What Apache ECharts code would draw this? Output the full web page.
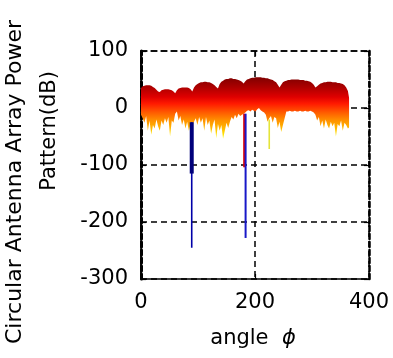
<!DOCTYPE html>
<html><head><meta charset="utf-8">
<script src="https://cdn.jsdelivr.net/npm/echarts@6/dist/echarts.min.js"></script>
<style>html,body{margin:0;padding:0;background:#fff}#c{width:393px;height:358px}</style>
</head><body><div id="c"></div>
<script>
// ---- data ----
const angleDeg = [0,3,6,9,12,15,18,21,24,27,30,33,36,39,42,45,48,51,54,57,60,63,66,69,72,75,78,81,84,87,90,93,96,99,102,105,108,111,114,117,120,123,126,129,132,135,138,141,144,147,150,153,156,159,162,165,168,171,174,177,180,183,186,189,192,195,198,201,204,207,210,213,216,219,222,225,228,231,234,237,240,243,246,249,252,255,258,261,264,267,270,273,276,279,282,285,288,291,294,297,300,303,306,309,312,315,318,321,324,327,330,333,336,339,342,345,348,351,354,357,360,363,365];
// upper envelope of the family of patterns (dB)
const upperDb = [35,38,39,40,40,40,39,37,35,32,29,28,
 31,32,33,33,33,32,31,29,26,
 31,34,35,36,36,36,36,35,33,29,
 36,40,42,44,45,45,46,46,45,45,44,42,40,37,34,
 42,46,48,50,51,51,52,52,51,51,50,49,48,46,43,
 47,50,51,52,53,53,54,54,54,54,53,53,52,52,51,50,49,47,45,41,36,
 41,45,47,48,49,49,50,50,50,50,50,49,49,49,48,48,47,46,44,41,36,
 38,41,43,44,45,45,46,46,46,45,45,45,44,44,43,42,40,36,30,18];
// lower (jagged) envelope of the family of patterns (dB)
const lowerDb = [-12,-18,-26,-14,-40,-22,-47,-30,-36,-20,-32,-40,
 -22,-30,-18,-26,-16,-50,-22,-26,-10,
 -6,-22,-14,-30,-20,-36,-24,-40,-28,-30,
 -24,-18,-30,-16,-26,-18,-40,-16,-30,-22,-45,-30,-20,-53,-28,
 -40,-30,-54,-40,-26,-35,-24,-16,-20,-12,-18,-10,-14,-12,-10,
 -8,-5,-4,-6,-3,-5,-6,-2,0,-4,-6,-8,-12,-24,-18,-14,-26,-16,-18,-35,-24,
 -42,-30,-18,-6,-6,-5,-6,-6,-5,-6,-6,-5,-6,-6,-5,-6,-6,-5,-6,-8,-12,
 -22,-16,-32,-22,-36,-20,-30,-36,-24,-32,-26,-50,-28,-32,-22,-40,-26,-30,-36,-34];
// individual deep nulls (angle, start dB, end dB)
const nullAngles = [89, 89, 181, 183.5, 225];
const nullStartDb = [-25, -25, -10, -10, -20];
const nullEndDb = [-115, -245, -104, -228, -72];
const xTicks = [0, 200, 400];
const yTicks = [-300, -200, -100, 0, 100];

// ---- chart ----
const F = 'DejaVu Sans';
const dash = [6, 4];
const nullColors = ['#00007a', '#0000a8', '#e00000', '#1818c8', '#e4e43a'];
const nullWidths = [4, 1.6, 2, 2, 1.6];

const bandFill = { type: 'linear', x: 0, y: 76, x2: 0, y2: 142, global: true,
  colorStops: [
    { offset: 0, color: '#7a0000' },
    { offset: 0.18, color: '#b00000' },
    { offset: 0.32, color: '#e00000' },
    { offset: 0.42, color: '#ff1a00' },
    { offset: 0.55, color: '#ff5a00' },
    { offset: 0.67, color: '#ff9000' },
    { offset: 0.79, color: '#ffb800' },
    { offset: 0.91, color: '#ffee00' },
    { offset: 1, color: '#ffff40' } ] };

const series = [
  { type: 'custom', coordinateSystem: 'cartesian2d', xAxisIndex: 0, yAxisIndex: 0,
    data: [[angleDeg[0], upperDb[0]]], silent: true, z: 2, clip: true,
    renderItem: function (params, api) {
      const pts = [];
      for (let i = 0; i < angleDeg.length; i++) pts.push(api.coord([angleDeg[i], upperDb[i]]));
      for (let i = angleDeg.length - 1; i >= 0; i--) pts.push(api.coord([angleDeg[i], lowerDb[i]]));
      return { type: 'polygon', shape: { points: pts }, style: { fill: bandFill, stroke: null } };
    } }
];
nullAngles.forEach((a, i) => {
  series.push({ type: 'line', data: [[a, nullStartDb[i]], [a, nullEndDb[i]]], symbol: 'none',
    lineStyle: { color: nullColors[i], width: nullWidths[i] }, silent: true, z: 3 + (i === 0 ? 1 : 0) });
});

const chart = echarts.init(document.getElementById('c'), null, { renderer: 'canvas' });
chart.setOption({
  animation: false,
  backgroundColor: '#fff',
  grid: { left: 141, top: 51, width: 228, height: 228 },
  xAxis: [
    { type: 'value', min: xTicks[0], max: xTicks[xTicks.length - 1], interval: xTicks[1] - xTicks[0], position: 'bottom',
      axisLine: { show: true, onZero: false, lineStyle: { color: '#000', width: 1.5 } },
      axisTick: { show: true, inside: true, length: 5, lineStyle: { color: '#000', width: 1.2 } },
      axisLabel: { margin: 13, color: '#000', fontFamily: F, fontSize: 21 },
      splitLine: { show: true, lineStyle: { color: '#000', type: dash, width: 1.5 } } },
    { type: 'value', min: xTicks[0], max: xTicks[xTicks.length - 1], interval: xTicks[1] - xTicks[0], position: 'top',
      axisLine: { show: true, onZero: false, lineStyle: { color: '#000', width: 1.5, type: dash } },
      axisTick: { show: true, inside: true, length: 5, lineStyle: { color: '#000', width: 1.2 } },
      axisLabel: { show: false }, splitLine: { show: false } }
  ],
  yAxis: [
    { type: 'value', min: yTicks[0], max: yTicks[yTicks.length - 1], interval: yTicks[1] - yTicks[0], position: 'left',
      axisLine: { show: true, onZero: false, lineStyle: { color: '#000', width: 1.5 } },
      axisTick: { show: true, inside: true, length: 5, lineStyle: { color: '#000', width: 1.2 } },
      axisLabel: { margin: 13, color: '#000', fontFamily: F, fontSize: 21 },
      splitLine: { show: true, lineStyle: { color: '#000', type: dash, width: 1.5 } } },
    { type: 'value', min: yTicks[0], max: yTicks[yTicks.length - 1], interval: yTicks[1] - yTicks[0], position: 'left',
      axisLine: { show: true, onZero: false, lineStyle: { color: '#000', width: 3, type: [5, 3] } },
      axisTick: { show: false }, axisLabel: { show: false }, splitLine: { show: false } },
    { type: 'value', min: yTicks[0], max: yTicks[yTicks.length - 1], interval: yTicks[1] - yTicks[0], position: 'right',
      axisLine: { show: true, onZero: false, lineStyle: { color: '#000', width: 2.5, type: [5, 3] } },
      axisTick: { show: true, inside: true, length: 5, lineStyle: { color: '#000', width: 1.2 } },
      axisLabel: { show: false }, splitLine: { show: false } }
  ],
  series: series,
  graphic: [
    { type: 'text', x: 15, y: 182, rotation: Math.PI / 2,
      style: { text: 'Circular Antenna Array Power', font: '22px "DejaVu Sans"', fill: '#000',
        align: 'center', verticalAlign: 'middle', textAlign: 'center', textVerticalAlign: 'middle' } },
    { type: 'text', x: 50, y: 131, rotation: Math.PI / 2,
      style: { text: 'Pattern(dB)', font: '21px "DejaVu Sans"', fill: '#000',
        align: 'center', verticalAlign: 'middle', textAlign: 'center', textVerticalAlign: 'middle' } },
    { type: 'text', x: 253, y: 339,
      style: { text: 'angle  {p|ϕ}', font: '21px "DejaVu Sans"', fill: '#000',
        rich: { p: { fontStyle: 'italic', fontFamily: 'DejaVu Sans', fontSize: 21, fill: '#000' } },
        align: 'center', verticalAlign: 'middle', textAlign: 'center', textVerticalAlign: 'middle' } }
  ]
});
</script></body></html>
